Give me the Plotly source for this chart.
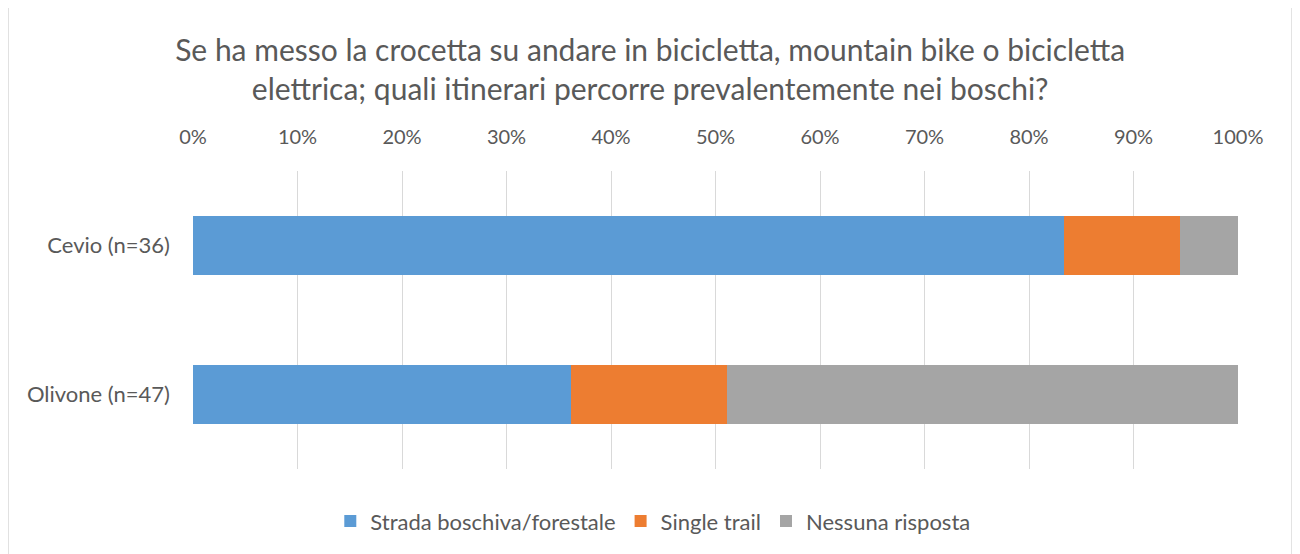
import plotly.graph_objects as go

# values are shares of respondents (counts / n)
categories = ["Cevio (n=36)", "Olivone (n=47)"]
strada = [30 / 36, 17 / 47]
single_trail = [4 / 36, 7 / 47]
nessuna = [2 / 36, 23 / 47]
series_names = ["Strada boschiva/forestale", "Single trail", "Nessuna risposta"]
colors = ["#5B9BD5", "#ED7D31", "#A5A5A5"]
tick_vals = [i / 10 for i in range(11)]
tick_text = [f"{i * 10}%" for i in range(11)]

FONT = "Lato, Open Sans, sans-serif"

fig = go.Figure()
for name, vals, col in zip(series_names, [strada, single_trail, nessuna], colors):
    fig.add_trace(go.Bar(
        y=categories, x=vals, name=name, orientation="h",
        marker=dict(color=col, line=dict(width=0)),
        hoverinfo="x+name",
    ))

fig.update_layout(
    barmode="stack",
    bargap=0.6,
    width=1300, height=554,
    margin=dict(l=185, r=70, t=163, b=93),
    paper_bgcolor="white",
    plot_bgcolor="white",
    font=dict(family=FONT, color="#595959", size=20),
    title=dict(
        text="Se ha messo la crocetta su andare in bicicletta, mountain bike o bicicletta<br>elettrica; quali itinerari percorre prevalentemente nei boschi?",
        x=0.494, xanchor="center", y=0.904, yanchor="middle",
        font=dict(size=30, color="#595959", family=FONT),
    ),
    legend=dict(
        orientation="h", x=0.44, xanchor="center", y=-0.175, yanchor="middle",
        font=dict(size=22, color="#595959"), traceorder="normal",
        itemwidth=30,
    ),
    showlegend=True,
)

fig.update_xaxes(
    side="top", range=[0, 1], tickvals=tick_vals, ticktext=tick_text,
    showgrid=True, gridcolor="#D9D9D9", gridwidth=1,
    zeroline=False, showline=False, ticks="", ticklabelstandoff=22,
    tickfont=dict(size=20, color="#595959"),
)
fig.update_yaxes(
    categoryorder="array", categoryarray=categories[::-1],
    showgrid=False, zeroline=False, showline=False, ticks="",
    ticklabelstandoff=22,
    tickfont=dict(size=22, color="#595959"),
)

# outer chart border
fig.add_shape(type="rect", xref="paper", yref="paper",
              x0=-0.177, x1=1.0517, y0=-0.35, y1=1.56,
              line=dict(color="#D9D9D9", width=1.5), fillcolor="rgba(0,0,0,0)",
              layer="below")

fig.write_html("out.html")
